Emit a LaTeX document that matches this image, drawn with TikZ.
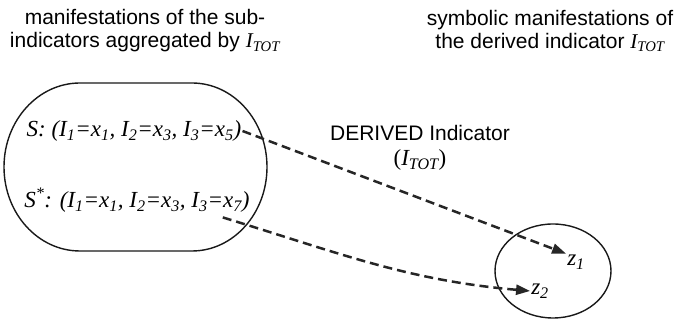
\documentclass[tikz,border=0pt]{standalone}
\usepackage{fontspec}
\setmainfont{Liberation Sans}
\newfontfamily\tnr{Liberation Serif}
\usetikzlibrary{arrows.meta,shapes.geometric}
\newcommand{\subx}[1]{\textsubscript{#1}}
\newcommand{\itot}{{\tnr\itshape I\textsubscript{TOT}}}
\begin{document}
\begin{tikzpicture}[x=1pt,y=1pt,
  sanstext/.style={font=\fontsize{21}{23}\selectfont, align=center, inner sep=0pt},
  mathtext/.style={font=\tnr\itshape\fontsize{23}{26}\selectfont, inner sep=1pt},
  outline/.style={draw=black!90, line width=1.4pt},
  dasharrow/.style={draw=black!85, line width=2.5pt, dash pattern=on 9pt off 5pt,
    -{Triangle[length=14pt,width=10pt]}}]
\useasboundingbox (0,0) rectangle (677,320);
% left set
\draw[outline] (80,237) -- (192,237)
  arc[start angle=90,end angle=-90,x radius=75,y radius=84]
  -- (80,69)
  arc[start angle=270,end angle=90,x radius=76,y radius=84] -- cycle;
% right set
\node[outline, ellipse, minimum width=116pt, minimum height=94pt, inner sep=0pt] (zset) at (553,49) {};
% headings
\node[sanstext] (hl) at (145,289) {manifestations of the sub-\\indicators aggregated by \itot};
\node[sanstext] (hr) at (550,289) {symbolic manifestations of\\the derived indicator \itot};
% contents
\node[mathtext] (S) at (134,189) {S: (I\subx{1}=x\subx{1}, I\subx{2}=x\subx{3}, I\subx{3}=x\subx{5})};
\node[mathtext] (Sstar) at (137,120) {S\textsuperscript{*}: (I\subx{1}=x\subx{1}, I\subx{2}=x\subx{3}, I\subx{3}=x\subx{7})};
\node[mathtext] (z1) at (576,58) {z\subx{1}};
\node[mathtext] (z2) at (540,29) {z\subx{2}};
% label
\node[sanstext] (lbl) at (420,187) {DERIVED Indicator};
\node[sanstext, font=\tnr\fontsize{23}{26}\selectfont] (lbl2) at (420,160) {(\itot)};
% arrows
\draw[dasharrow] (S.east) -- (z1.north west);
\draw[dasharrow] ([xshift=-28pt,yshift=-4pt]Sstar.south east) to[out=-17,in=175] (z2.west);
\end{tikzpicture}
\end{document}
